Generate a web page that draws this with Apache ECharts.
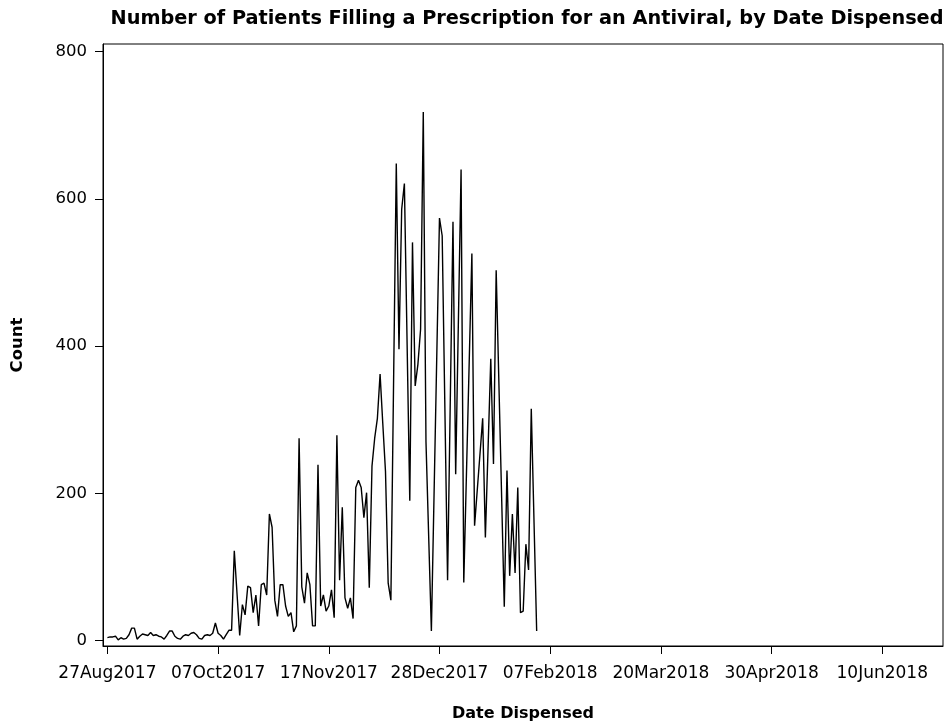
<!DOCTYPE html>
<html>
<head>
<meta charset="utf-8">
<script src="https://cdn.jsdelivr.net/npm/echarts@6/dist/echarts.min.js"></script>
<style>
  html, body { margin: 0; padding: 0; background: #fff; }
  #chart { width: 951px; height: 727px; }
</style>
</head>
<body>
<div id="chart"></div>
<script>
// ---- data ----
const startDate = '2017-08-27';
// day number counted from startDate, and count of patients on that day
const dayIndex = [0,1,2,3,4,5,6,7,8,9,10,11,12,13,14,15,16,17,18,19,20,21,22,23,24,25,26,27,28,29,30,31,32,33,34,35,36,37,38,39,40,41,42,43,44,45,46,47,49,50,51,52,53,54,55,56,57,58,59,60,61,62,63,64,65,66,67,68,69,70,71,72,73,74,75,76,77,78,79,80,81,82,83,84,85,86,87,88,89,90,91,92,93,94,95,96,97,98,99,100,101,102,103,104,105,107,108,109,110,112,113,114,115,116,117,118,120,123,124,126,128,129,131,132,135,136,139,140,142,143,144,147,148,149,150,151,152,153,154,155,156,157,159];
const counts = [4,5,5,6,1,4,2,3,8,17,17,2,6,9,8,7,11,7,8,6,5,2,7,13,13,6,3,2,6,8,7,10,11,8,3,2,7,8,7,10,24,10,7,2,8,14,14,122,7,49,35,74,72,38,62,20,76,78,62,172,154,55,33,76,76,47,33,38,12,20,275,73,51,92,76,20,20,239,47,62,40,47,69,31,279,82,181,58,44,58,30,208,218,208,167,201,72,237,275,302,362,295,230,78,55,648,396,586,621,190,541,346,375,423,718,270,13,574,550,82,569,226,640,79,526,156,302,140,383,240,503,46,231,88,172,92,208,38,40,131,96,315,13];
const xTickLabels = ['27Aug2017','07Oct2017','17Nov2017','28Dec2017','07Feb2018','20Mar2018','30Apr2018','10Jun2018'];
const yTickValues = [0,200,400,600,800];

// ---- helpers ----
const DAY = 86400000;
const MONTHS = ['Jan','Feb','Mar','Apr','May','Jun','Jul','Aug','Sep','Oct','Nov','Dec'];
function parseISO(s) { const p = s.split('-').map(Number); return Date.UTC(p[0], p[1]-1, p[2]); }
function parseTick(s) { return Date.UTC(+s.slice(5), MONTHS.indexOf(s.slice(2,5)), +s.slice(0,2)); }
const t0 = parseISO(startDate);
function fmtDay(d) {
  const dt = new Date(t0 + Math.round(d) * DAY);
  return String(dt.getUTCDate()).padStart(2,'0') + MONTHS[dt.getUTCMonth()] + dt.getUTCFullYear();
}

const seriesData = dayIndex.map((d, i) => [d, counts[i]]);
const xTicks = xTickLabels.map(s => Math.round((parseTick(s) - t0) / DAY));

const FONT = 'DejaVu Sans';
const chart = echarts.init(document.getElementById('chart'), null, { renderer: 'canvas' });
chart.setOption({
  animation: false,
  backgroundColor: '#ffffff',
  title: {
    text: 'Number of Patients Filling a Prescription for an Antiviral, by Date Dispensed',
    left: 527, top: 9, padding: 0, textAlign: 'center',
    textStyle: { fontFamily: FONT, fontWeight: 'bold', fontSize: 19.3, color: '#000' }
  },
  grid: {
    left: 103, right: 8, top: 44, bottom: 74,
    show: true, borderColor: '#000', borderWidth: 1, backgroundColor: 'transparent',
    containLabel: false
  },
  xAxis: {
    type: 'value',
    min: -1.63,
    max: 309.5,
    name: 'Date Dispensed',
    nameLocation: 'middle',
    nameGap: 60,
    nameTextStyle: { fontFamily: FONT, fontWeight: 'bold', fontSize: 16, color: '#000' },
    axisLine: { show: true, onZero: false, lineStyle: { color: '#000', width: 1 } },
    axisTick: { show: true, length: 8, lineStyle: { color: '#000', width: 1 }, customValues: xTicks },
    axisLabel: {
      show: true, margin: 19, color: '#000', fontFamily: FONT, fontSize: 17,
      customValues: xTicks,
      formatter: function (v) { return fmtDay(v); },
      hideOverlap: false
    },
    splitLine: { show: false }
  },
  yAxis: {
    type: 'value',
    min: -7.3,
    max: 810.5,
    name: 'Count',
    nameLocation: 'middle',
    nameGap: 77,
    nameRotate: 90,
    nameTextStyle: { fontFamily: FONT, fontWeight: 'bold', fontSize: 16.5, color: '#000' },
    axisLine: { show: true, onZero: false, lineStyle: { color: '#000', width: 1 } },
    axisTick: { show: true, length: 8, lineStyle: { color: '#000', width: 1 }, customValues: yTickValues },
    axisLabel: {
      show: true, margin: 16, color: '#000', fontFamily: FONT, fontSize: 16.5,
      customValues: yTickValues
    },
    splitLine: { show: false }
  },
  series: [{
    type: 'line',
    data: seriesData,
    showSymbol: false,
    symbol: 'none',
    smooth: false,
    lineStyle: { color: '#000', width: 1.4 },
    emphasis: { disabled: true }
  }]
});
</script>
</body>
</html>
